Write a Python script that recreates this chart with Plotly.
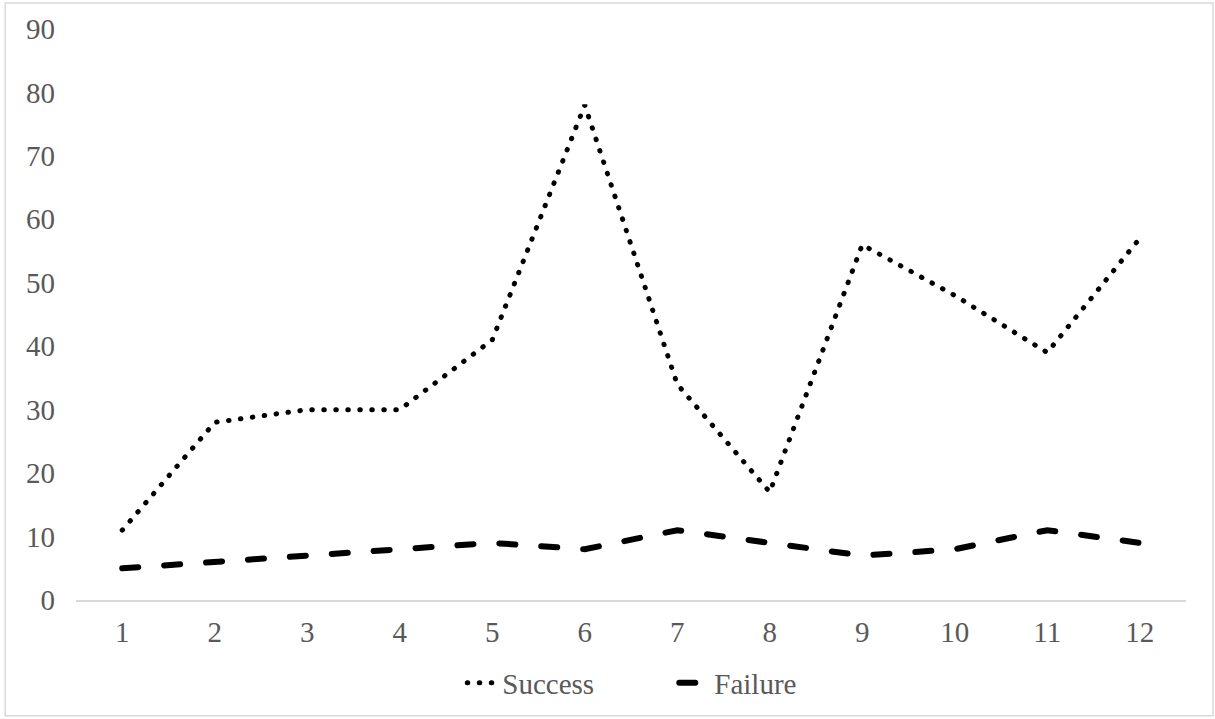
import plotly.graph_objects as go

categories = [1, 2, 3, 4, 5, 6, 7, 8, 9, 10, 11, 12]
success = [11, 28, 30, 30, 41, 78, 34, 17, 56, 48, 39, 57]
failure = [5, 6, 7, 8, 9, 8, 11, 9, 7, 8, 11, 9]
y_ticks = [0, 10, 20, 30, 40, 50, 60, 70, 80, 90]

FONT = "Liberation Serif"
TEXT = "#595959"
GRID = "#d9d9d9"

fig = go.Figure()
fig.add_trace(go.Scatter(x=categories, y=success, mode="lines", name="Success",
                         line=dict(color="black", width=5, dash="0.5px,11.5px")))
fig.add_trace(go.Scatter(x=categories, y=failure, mode="lines", name="Failure",
                         line=dict(color="black", width=6, dash="16px,26px")))

L, R, T, B = 75.75, 29, 29, 118
W, H = 1215, 719
pw, ph = W - L - R, H - T - B

fig.update_layout(
    width=W, height=H,
    margin=dict(l=L, r=R, t=T, b=B),
    paper_bgcolor="white", plot_bgcolor="white",
    font=dict(family=FONT, color=TEXT, size=29),
    showlegend=True,
    legend=dict(orientation="h", x=0.539, xanchor="center", y=(601 - 683) / ph,
                yanchor="middle", font=dict(family=FONT, color=TEXT, size=29),
                bgcolor="rgba(0,0,0,0)", entrywidth=167),
    xaxis=dict(range=[0.5, 12.5], tickvals=categories, ticktext=[str(c) for c in categories],
               showgrid=False, zeroline=False, showline=True, linecolor=GRID, linewidth=1.5,
               ticks="", ticklabelstandoff=5, fixedrange=True),
    yaxis=dict(range=[0, 90], tickvals=y_ticks, showgrid=False, zeroline=False,
               showline=False, ticks="", ticklabelstandoff=20, fixedrange=True),
    shapes=[dict(type="rect", xref="paper", yref="paper",
                 x0=(5 - L) / pw, x1=(1213 - L) / pw,
                 y0=(601 - 717) / ph, y1=(601 - 3) / ph,
                 line=dict(color=GRID, width=1.5), fillcolor="rgba(0,0,0,0)", layer="below")],
)

post = """
var s = document.createElement('style');
s.innerHTML = 'html,body{margin:0;padding:0;overflow:hidden;} .js-line{stroke-linecap:round !important;}';
document.head.appendChild(s);
"""
fig.write_html("out.html", post_script=post, config={"displayModeBar": False})
